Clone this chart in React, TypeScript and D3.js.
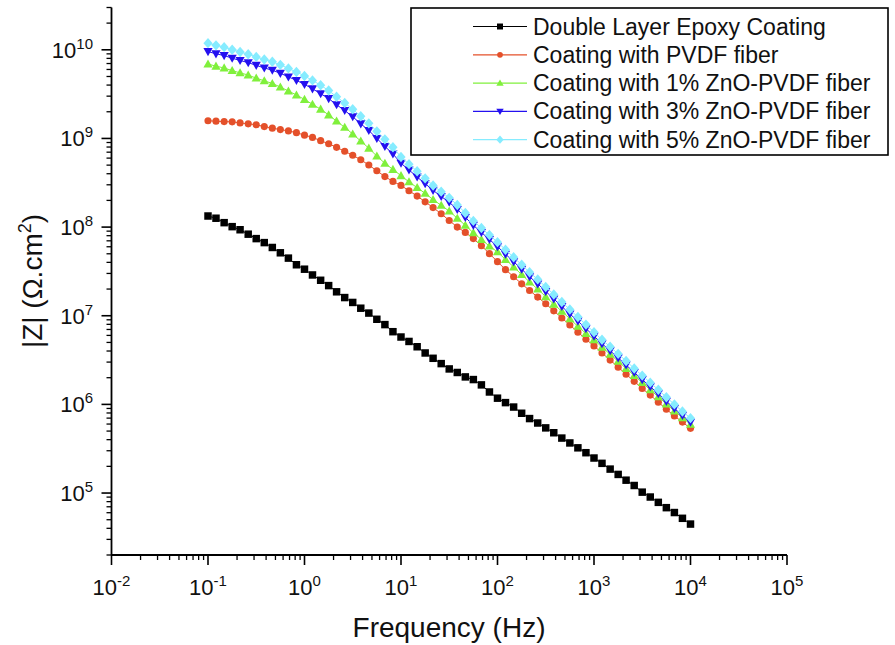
import React from 'react';
import * as d3 from 'd3';

// Frequencies (Hz), 12 points per decade, 0.1 Hz .. 10 kHz
const frequencies = [
  0.1, 0.121, 0.147, 0.178, 0.215, 0.261, 0.316, 0.383, 0.464, 0.562, 0.681, 0.825,
  1, 1.21, 1.47, 1.78, 2.15, 2.61, 3.16, 3.83, 4.64, 5.62, 6.81, 8.25,
  10, 12.1, 14.7, 17.8, 21.5, 26.1, 31.6, 38.3, 46.4, 56.2, 68.1, 82.5,
  100, 121, 147, 178, 215, 261, 316, 383, 464, 562, 681, 825,
  1000, 1210, 1470, 1780, 2150, 2610, 3160, 3830, 4640, 5620, 6810, 8250,
  10000,
];

// log10 |Z| (Ohm.cm^2)
const logZDoubleLayer = [
  8.125, 8.10, 8.05, 8.005, 7.97, 7.92, 7.87, 7.825, 7.77, 7.71, 7.65, 7.575,
  7.525, 7.46, 7.40, 7.34, 7.27, 7.205, 7.15, 7.085, 7.03, 6.96, 6.90, 6.82,
  6.76, 6.71, 6.65, 6.58, 6.52, 6.46, 6.40, 6.36, 6.31, 6.28, 6.22, 6.14,
  6.07, 6.02, 5.97, 5.90, 5.84, 5.79, 5.735, 5.68, 5.62, 5.565, 5.51, 5.455,
  5.395, 5.335, 5.27, 5.21, 5.145, 5.085, 5.01, 4.955, 4.895, 4.835, 4.78, 4.715,
  4.65,
];
const logZPVDF = [
  9.199, 9.195, 9.19, 9.187, 9.175, 9.165, 9.154, 9.134, 9.116, 9.10, 9.085, 9.065,
  9.037, 9.012, 8.975, 8.94, 8.90, 8.855, 8.81, 8.76, 8.70, 8.635, 8.57, 8.515,
  8.47, 8.41, 8.35, 8.285, 8.22, 8.15, 8.075, 8.00, 7.94, 7.87, 7.79, 7.70,
  7.61, 7.52, 7.44, 7.36, 7.285, 7.21, 7.135, 7.055, 6.975, 6.895, 6.815, 6.735,
  6.66, 6.58, 6.50, 6.42, 6.34, 6.26, 6.18, 6.105, 6.025, 5.945, 5.87, 5.80,
  5.73,
];
const logZZnO1 = [
  9.84, 9.815, 9.795, 9.765, 9.74, 9.715, 9.68, 9.65, 9.62, 9.58, 9.535, 9.49,
  9.44, 9.385, 9.33, 9.265, 9.195, 9.125, 9.05, 8.97, 8.89, 8.80, 8.72, 8.65,
  8.58, 8.51, 8.445, 8.38, 8.31, 8.245, 8.18, 8.10, 8.02, 7.935, 7.86, 7.785,
  7.72, 7.635, 7.55, 7.465, 7.38, 7.30, 7.215, 7.13, 7.05, 6.965, 6.88, 6.80,
  6.73, 6.645, 6.565, 6.485, 6.405, 6.325, 6.245, 6.165, 6.085, 6.005, 5.925, 5.85,
  5.775,
];
const logZZnO3 = [
  9.98, 9.955, 9.935, 9.905, 9.88, 9.855, 9.825, 9.795, 9.77, 9.735, 9.695, 9.655,
  9.61, 9.56, 9.505, 9.45, 9.38, 9.315, 9.245, 9.165, 9.09, 9.00, 8.91, 8.825,
  8.72, 8.645, 8.565, 8.49, 8.415, 8.345, 8.28, 8.20, 8.11, 8.02, 7.94, 7.86,
  7.78, 7.695, 7.61, 7.525, 7.44, 7.36, 7.275, 7.19, 7.105, 7.02, 6.94, 6.855,
  6.77, 6.685, 6.605, 6.525, 6.445, 6.36, 6.28, 6.20, 6.12, 6.035, 5.955, 5.875,
  5.80,
];
const logZZnO5 = [
  10.075, 10.05, 10.03, 10.00, 9.975, 9.95, 9.92, 9.89, 9.865, 9.83, 9.79, 9.75,
  9.705, 9.655, 9.60, 9.54, 9.47, 9.40, 9.33, 9.25, 9.17, 9.08, 8.99, 8.90,
  8.79, 8.71, 8.63, 8.55, 8.47, 8.40, 8.33, 8.25, 8.16, 8.07, 7.99, 7.91,
  7.83, 7.745, 7.66, 7.575, 7.49, 7.41, 7.325, 7.24, 7.155, 7.07, 6.985, 6.90,
  6.815, 6.73, 6.65, 6.57, 6.49, 6.405, 6.325, 6.245, 6.165, 6.08, 6.00, 5.92,
  5.845,
];

const seriesNames = [
  'Double Layer Epoxy Coating',
  'Coating with PVDF fiber',
  'Coating with 1% ZnO-PVDF fiber',
  'Coating with 3% ZnO-PVDF fiber',
  'Coating with 5% ZnO-PVDF fiber',
];
const seriesValues = [logZDoubleLayer, logZPVDF, logZZnO1, logZZnO3, logZZnO5];
const seriesColors = ['#000000', '#e4502a', '#80f03c', '#2410f0', '#86ecff'];
const seriesMarkers = ['square', 'circle', 'triangleUp', 'triangleDown', 'diamond'];

const xTickExponents = [-2, -1, 0, 1, 2, 3, 4, 5];
const yTickExponents = [5, 6, 7, 8, 9, 10];

const FONT = '"Liberation Sans", Arial, Helvetica, sans-serif';

function markerPath(kind: string, s: number): string {
  switch (kind) {
    case 'square':
      return d3.symbol(d3.symbolSquare, 56 * s * s)() as string;
    case 'circle':
      return d3.symbol(d3.symbolCircle, 40 * s * s)() as string;
    case 'triangleUp': {
      const h = 4.6 * s, w = 4.6 * s;
      return `M0,${-h}L${w},${h * 0.75}L${-w},${h * 0.75}Z`;
    }
    case 'triangleDown': {
      const h = 4.6 * s, w = 4.6 * s;
      return `M0,${h}L${w},${-h * 0.75}L${-w},${-h * 0.75}Z`;
    }
    case 'diamond': {
      const h = 5.2 * s, w = 4.6 * s;
      return `M0,${-h}L${w},0L0,${h}L${-w},0Z`;
    }
  }
  return '';
}

export default function App() {
  const W = 895, H = 645;
  const x = d3.scaleLog().domain([0.01, 1e5]).range([111.5, 787]);
  const y = d3.scaleLog().domain([2e4, 3e10]).range([555, 7.5]);
  const axisY = 555;
  const axisX = 111.5;

  const xMinor: number[] = [];
  for (let e = -2; e < 5; e++) for (let m = 2; m <= 9; m++) xMinor.push(m * Math.pow(10, e));
  const yMinor: number[] = [];
  for (let e = 4; e <= 10; e++)
    for (let m = 2; m <= 9; m++) {
      const v = m * Math.pow(10, e);
      if (v >= 2e4 && v <= 3e10) yMinor.push(v);
    }

  const line = d3
    .line<[number, number]>()
    .x((d) => x(d[0]))
    .y((d) => y(Math.pow(10, d[1])));

  const legendX = 411, legendY = 8, legendW = 477, legendH = 147;
  const rowY0 = 26.5, rowDy = 28.3;

  return (
    <svg
      width={W}
      height={H}
      style={{ position: 'absolute', left: 0, top: 0, background: '#fff' }}
      fontFamily={FONT}
    >
      <rect x={0} y={0} width={W} height={H} fill="#fff" />

      {/* series */}
      {seriesValues.map((vals, si) => {
        const pts: [number, number][] = frequencies.map((f, i) => [f, vals[i]]);
        const mp = markerPath(seriesMarkers[si], 1);
        return (
          <g key={si}>
            <path d={line(pts) as string} fill="none" stroke={seriesColors[si]} strokeWidth={1} />
            {pts.map((p, i) => (
              <path
                key={i}
                d={mp}
                transform={`translate(${x(p[0])},${y(Math.pow(10, p[1]))})`}
                fill={seriesColors[si]}
              />
            ))}
          </g>
        );
      })}

      {/* axes */}
      <line x1={axisX} x2={787} y1={axisY} y2={axisY} stroke="#000" strokeWidth={1.8} />
      <line x1={axisX} x2={axisX} y1={axisY} y2={7.5} stroke="#000" strokeWidth={1.8} />
      {xMinor.map((v, i) => (
        <line key={'xm' + i} x1={x(v)} x2={x(v)} y1={axisY} y2={axisY + 5} stroke="#000" strokeWidth={1.3} />
      ))}
      {yMinor.map((v, i) => (
        <line key={'ym' + i} x1={axisX} x2={axisX - 5} y1={y(v)} y2={y(v)} stroke="#000" strokeWidth={1.3} />
      ))}
      {xTickExponents.map((e) => {
        const px = x(Math.pow(10, e));
        return (
          <g key={'xt' + e}>
            <line x1={px} x2={px} y1={axisY} y2={axisY + 10} stroke="#000" strokeWidth={1.6} />
            <text x={px} y={595} textAnchor="middle" fontSize={22} fill="#111">
              10
              <tspan fontSize={15} dy={-9}>
                {String(e)}
              </tspan>
            </text>
          </g>
        );
      })}
      {yTickExponents.map((e) => {
        const py = y(Math.pow(10, e));
        return (
          <g key={'yt' + e}>
            <line x1={axisX} x2={axisX - 10} y1={py} y2={py} stroke="#000" strokeWidth={1.6} />
            <text x={93} y={py + 8} textAnchor="end" fontSize={22} fill="#111">
              10
              <tspan fontSize={15} dy={-9}>
                {String(e)}
              </tspan>
            </text>
          </g>
        );
      })}

      {/* axis titles */}
      <text x={449} y={637} textAnchor="middle" fontSize={28} fill="#111">
        Frequency (Hz)
      </text>
      <text
        transform={`translate(42,281) rotate(-90)`}
        textAnchor="middle"
        fontSize={28}
        fill="#111"
      >
        |Z| (Ω.cm
        <tspan fontSize={18} dy={-11}>
          2
        </tspan>
        <tspan dy={11}>)</tspan>
      </text>

      {/* legend */}
      <rect x={legendX} y={legendY} width={legendW} height={legendH} fill="#fff" stroke="#000" strokeWidth={1.6} />
      {seriesNames.map((name, si) => {
        const ry = rowY0 + si * rowDy;
        return (
          <g key={'lg' + si}>
            <line x1={473} x2={527} y1={ry} y2={ry} stroke={seriesColors[si]} strokeWidth={1.2} />
            <path d={markerPath(seriesMarkers[si], 0.8)} transform={`translate(500,${ry})`} fill={seriesColors[si]} />
            <text x={533} y={ry + 8} fontSize={23} fill="#111">
              {name}
            </text>
          </g>
        );
      })}
    </svg>
  );
}
